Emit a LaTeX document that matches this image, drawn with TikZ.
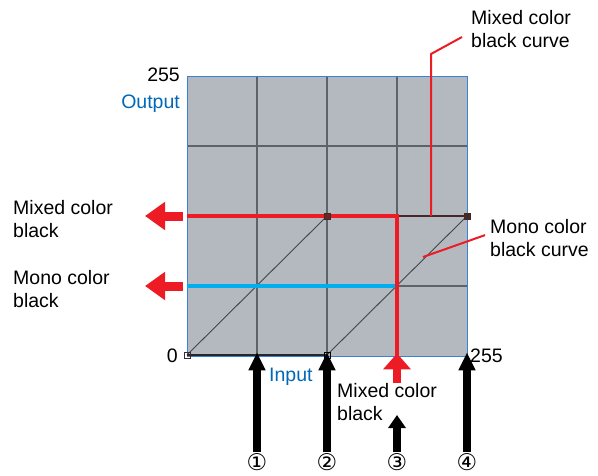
\documentclass[tikz,border=0pt]{standalone}
\usepackage{fontspec}
\setmainfont{Liberation Sans}
\newfontfamily\kreisschrift{DejaVu Sans}
\usetikzlibrary{arrows.meta}

\definecolor{feldgrau}{RGB}{180,185,192}
\definecolor{gitter}{RGB}{92,100,104}
\definecolor{signalrot}{RGB}{237,28,36}
\definecolor{signalblau}{RGB}{0,174,239}
\definecolor{textblau}{RGB}{0,104,183}
\definecolor{rahmenblau}{RGB}{60,130,210}
\definecolor{punktbraun}{RGB}{70,40,40}

\begin{document}
\begin{tikzpicture}[x=1pt, y=-1pt, font=\fontsize{19.5}{23.5}\selectfont]

\useasboundingbox (0,0) rectangle (598,475);

% 1. Feld mit Gitter
\node[draw=rahmenblau, fill=feldgrau, line width=0.8pt, minimum size=280pt, inner sep=0pt] (feld) at (327,216) {};
\foreach \x in {257,327,397} \draw[gitter, line width=1.3pt] (\x,76.5) -- (\x,355.5);
\foreach \y in {146,216,286} \draw[gitter, line width=1.3pt] (187.5,\y) -- (466.5,\y);

% 2. Kurven
\draw[gitter!70!black, line width=0.9pt] (187,355) -- (327,216);
\draw[gitter!70!black, line width=0.9pt] (327,355) -- (467,216);
\draw[gitter!40!black, line width=2pt] (187,355) -- (327,355);
\draw[punktbraun, line width=2pt] (397,216) -- (467,216);

% 3. Signallinien
\draw[signalblau, line width=4.5pt] (187,286) -- (397,286);
\draw[signalrot, line width=4.5pt] (187,216) -- (397,216) -- (397,356);

% 4. Stuetzpunkte
\tikzset{punkt/.style={draw=#1, line width=0.9pt, minimum size=6pt, inner sep=0pt}}
\node[punkt=punktbraun] (p0) at (187,355) {};
\node[punkt=black] (p1) at (327,355) {};
\node[punkt=punktbraun, fill=punktbraun!80!signalrot] (p2) at (327,216) {};
\node[punkt=punktbraun, fill=punktbraun] (p3) at (467,216) {};

% 5. Achsenbeschriftung
\node[anchor=base east, inner sep=0pt] (ymax) at (180,81) {255};
\node[anchor=base east, inner sep=0pt, textblau] (output) at (180,108) {Output};
\node[anchor=base east, inner sep=0pt] (null) at (178,362) {0};
\node[anchor=base west, inner sep=0pt] (xmax) at (470,362) {255};
\node[anchor=base west, inner sep=0pt, textblau] (input) at (269,381) {Input};

% 6. Beschriftungen
\tikzset{beschriftung/.style={anchor=north west, align=left, inner sep=0pt}}
\node[beschriftung] (mixlinks) at (13,200) {Mixed color\\black};
\node[beschriftung] (monolinks) at (13,270) {Mono color\\black};
\node[beschriftung] (mixunten) at (337,383) {Mixed color\\black};
\node[beschriftung] (mixkurve) at (471,10) {Mixed color\\black curve};
\node[beschriftung] (monokurve) at (490,219) {Mono color\\black curve};

% 7. Zuleitungen
\coordinate (mixfuss) at (431,216);
\coordinate (mixknick) at (431,54);
\coordinate (monofuss) at (423,257);
\draw[signalrot, line width=2pt] (mixfuss) -- (mixknick) -- ([xshift=-9pt]mixkurve.west |- 0,37);
\draw[signalrot, line width=2pt] (monofuss) -- ([xshift=-5pt, yshift=3pt]monokurve.west);

% 8. Pfeile
\tikzset{
  blockpfeil/.style={line width=7.5pt, -{Triangle[length=18pt, width=16pt]}},
  rotpfeil/.style={signalrot, line width=9pt, -{Triangle[length=20pt, width=27pt]}}
}
\foreach \x/\n in {257/1,327/2,397/3,467/4}
  \node[font=\kreisschrift\fontsize{23}{23}\selectfont, inner sep=0pt, anchor=north] (n\n) at (\x,453) {\ifcase\n\or ①\or ②\or ③\or ④\fi};
\draw[blockpfeil] ([yshift=1pt]n1.north) -- ([yshift=4pt]n1.north |- feld.south);
\draw[blockpfeil] ([yshift=1pt]n2.north) -- ([yshift=4pt]n2.north |- feld.south);
\draw[blockpfeil] ([yshift=1pt]n4.north) -- ([yshift=4pt]n4.north |- feld.south);
\draw[blockpfeil, -{Triangle[length=13pt, width=17pt]}] ([yshift=1pt]n3.north) -- (397,415);
\draw[rotpfeil, line width=8pt, -{Triangle[length=16pt, width=27pt]}] (397,383) -- ([yshift=3pt]n3.north |- feld.south);
\draw[rotpfeil] (183,216) -- (145,216);
\draw[rotpfeil] (183,286) -- (145,286);

\end{tikzpicture}
\end{document}
